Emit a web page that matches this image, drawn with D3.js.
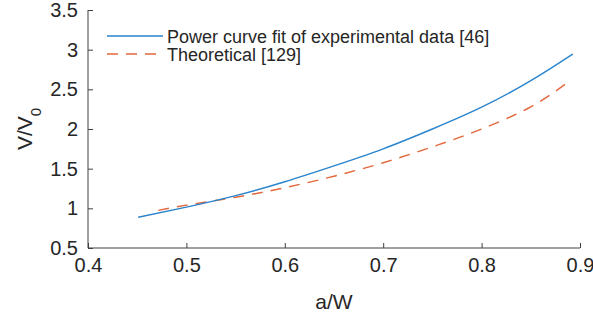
<!DOCTYPE html>
<html>
<head>
<meta charset="utf-8">
<script src="https://cdn.jsdelivr.net/npm/d3@7"></script>
<style>
  body { margin: 0; background: #fff; }
  text { font-family: "Liberation Sans", Arial, sans-serif; fill: #262626; }
</style>
</head>
<body>
<div id="chart"></div>
<script>
// Power curve fit of experimental data [46]
const fitAW = [0.451, 0.50, 0.55, 0.60, 0.65, 0.70, 0.75, 0.80, 0.85, 0.8926];
const fitV  = [0.887, 1.015, 1.16, 1.335, 1.535, 1.75, 2.00, 2.275, 2.61, 2.945];

// Theoretical [129]
const theoAW = [0.4714, 0.50, 0.55, 0.60, 0.65, 0.70, 0.75, 0.80, 0.85, 0.889];
const theoV  = [0.975, 1.04, 1.14, 1.26, 1.405, 1.575, 1.775, 2.00, 2.28, 2.60];

const xTicks = [0.4, 0.5, 0.6, 0.7, 0.8, 0.9];
const yTicks = [0.5, 1, 1.5, 2, 2.5, 3, 3.5];

const width = 593, height = 320;
const margin = { top: 10, right: 13, bottom: 72, left: 88 };

const blue = "#2a84cc", orange = "#e2673a";
const dash = "11,8";

const svg = d3.select("#chart").append("svg")
  .attr("width", width)
  .attr("height", height);

const x = d3.scaleLinear()
  .domain([0.4, 0.9])
  .range([margin.left, width - margin.right]);

const y = d3.scaleLinear()
  .domain([0.5, 3.5])
  .range([height - margin.bottom, margin.top]);

// Axes (MATLAB style: ticks inside, no box)
const xAxis = svg.append("g")
  .attr("transform", `translate(0,${height - margin.bottom})`)
  .call(d3.axisBottom(x).tickValues(xTicks).tickSize(-5).tickPadding(10).tickFormat(d3.format("")));

const yAxis = svg.append("g")
  .attr("transform", `translate(${margin.left},0)`)
  .call(d3.axisLeft(y).tickValues(yTicks).tickSize(-5).tickPadding(10).tickFormat(d3.format("")));

[xAxis, yAxis].forEach(g => {
  g.select(".domain").attr("stroke", "#404040").attr("stroke-width", 1);
  g.selectAll(".tick line").attr("stroke", "#404040");
  g.selectAll(".tick text")
    .attr("fill", "#262626")
    .style("font-size", "20px")
    .style("font-family", "'Liberation Sans', Arial, sans-serif");
});
yAxis.select(".domain").attr("d", `M0,${y(3.5)}V${y(0.5)}`);
xAxis.select(".domain").attr("d", `M${x(0.4)},0H${x(0.9)}`);

// Axis labels
svg.append("text")
  .attr("x", (margin.left + width - margin.right) / 2)
  .attr("y", 309)
  .attr("text-anchor", "middle")
  .style("font-size", "21px")
  .text("a/W");

const yLabel = svg.append("text")
  .attr("transform", `translate(32,${(margin.top + height - margin.bottom) / 2}) rotate(-90)`)
  .attr("text-anchor", "middle")
  .style("font-size", "21px");
yLabel.append("tspan").text("V/V");
yLabel.append("tspan").attr("dy", 9).style("font-size", "15px").text("0");

// Lines
const line = d3.line()
  .x(d => x(d[0]))
  .y(d => y(d[1]))
  .curve(d3.curveNatural);

svg.append("path")
  .datum(d3.zip(theoAW, theoV))
  .attr("fill", "none")
  .attr("stroke", orange)
  .attr("stroke-width", 1.4)
  .attr("stroke-dasharray", dash)
  .attr("d", line);

svg.append("path")
  .datum(d3.zip(fitAW, fitV))
  .attr("fill", "none")
  .attr("stroke", blue)
  .attr("stroke-width", 1.4)
  .attr("d", line);

// Legend
const legendItems = [
  { label: "Power curve fit of experimental data [46]", color: blue, dash: null },
  { label: "Theoretical [129]", color: orange, dash: dash }
];
const legend = svg.append("g").attr("transform", "translate(107,36)");
legendItems.forEach((d, i) => {
  legend.append("line")
    .attr("x1", 0).attr("x2", 56)
    .attr("y1", i * 18).attr("y2", i * 18)
    .attr("stroke", d.color)
    .attr("stroke-width", 1.4)
    .attr("stroke-dasharray", d.dash);
  legend.append("text")
    .attr("x", 60)
    .attr("y", i * 18 + 6.5)
    .style("font-size", "18px")
    .text(d.label);
});
</script>
</body>
</html>
